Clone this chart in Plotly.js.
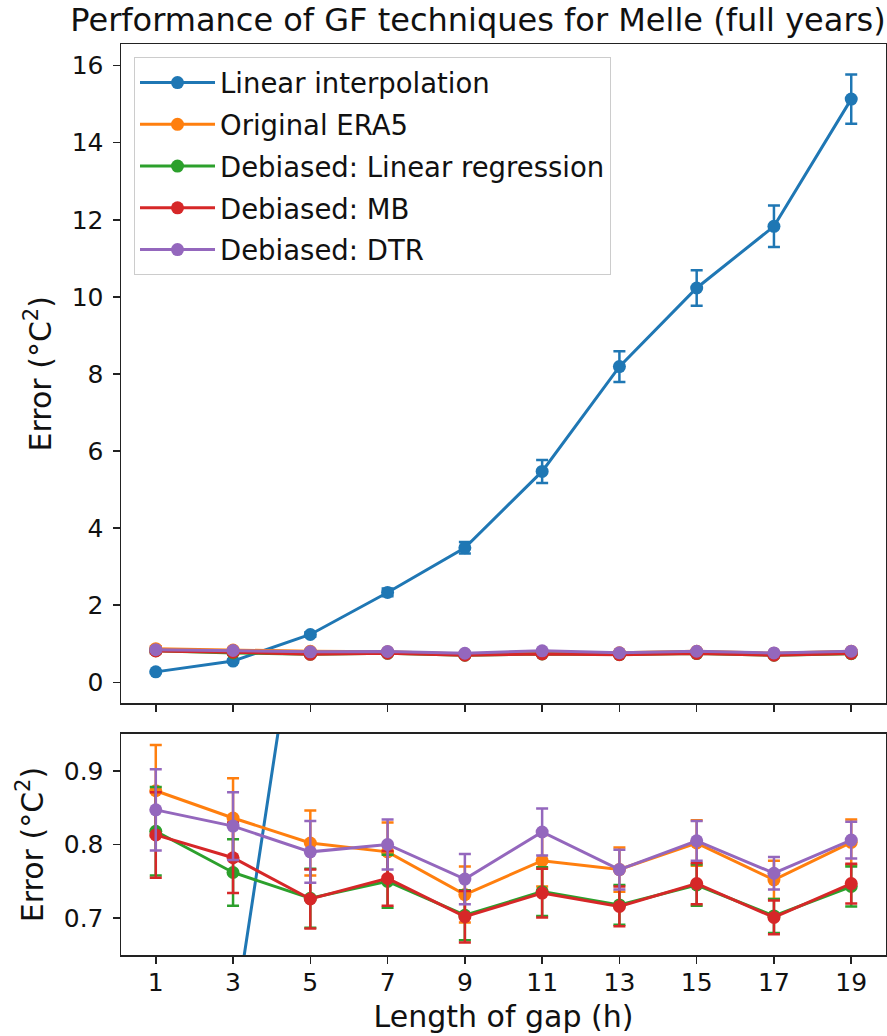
<!DOCTYPE html>
<html>
<head>
<meta charset="utf-8">
<script src="https://cdn.plot.ly/plotly-3.0.1.min.js"></script>
<style>html,body{margin:0;padding:0;background:#fff;}#chart{width:887px;height:1036px;}</style>
</head>
<body>
<div id="chart"></div>
<script>
// Data
var gapLengths = [1, 3, 5, 7, 9, 11, 13, 15, 17, 19];
var xTickLabels = ["1", "3", "5", "7", "9", "11", "13", "15", "17", "19"];

var linearInterp    = [0.27, 0.55, 1.24, 2.33, 3.49, 5.47, 8.19, 10.23, 11.83, 15.13];
var linearInterpErr = [0.03, 0.04, 0.06, 0.10, 0.15, 0.30, 0.40, 0.46, 0.54, 0.64];

var originalEra5    = [0.873, 0.836, 0.802, 0.790, 0.732, 0.778, 0.766, 0.802, 0.752, 0.803];
var originalEra5Err = [0.062, 0.054, 0.044, 0.040, 0.038, 0.035, 0.030, 0.031, 0.026, 0.031];

var debLinReg       = [0.818, 0.762, 0.727, 0.750, 0.704, 0.736, 0.718, 0.745, 0.703, 0.743];
var debLinRegErr    = [0.060, 0.045, 0.040, 0.036, 0.034, 0.033, 0.027, 0.028, 0.023, 0.027];

var debMB           = [0.813, 0.782, 0.726, 0.754, 0.702, 0.734, 0.716, 0.747, 0.701, 0.747];
var debMBErr        = [0.058, 0.048, 0.040, 0.037, 0.035, 0.033, 0.027, 0.028, 0.023, 0.027];

var debDTR          = [0.847, 0.825, 0.790, 0.800, 0.753, 0.817, 0.766, 0.805, 0.761, 0.806];
var debDTRErr       = [0.055, 0.046, 0.042, 0.034, 0.034, 0.032, 0.027, 0.027, 0.022, 0.025];

var seriesNames = ["Linear interpolation", "Original ERA5", "Debiased: Linear regression", "Debiased: MB", "Debiased: DTR"];
var seriesColors = ["#1f77b4", "#ff7f0e", "#2ca02c", "#d62728", "#9467bd"];
var seriesValues = [linearInterp, originalEra5, debLinReg, debMB, debDTR];
var seriesErrors = [linearInterpErr, originalEra5Err, debLinRegErr, debMBErr, debDTRErr];

var traces = [];
[["x", "y", true], ["x2", "y2", false]].forEach(function (ax) {
  for (var i = 0; i < seriesNames.length; i++) {
    traces.push({
      type: "scatter",
      mode: "lines+markers",
      name: seriesNames[i],
      legendgroup: "g" + i,
      showlegend: ax[2],
      x: gapLengths,
      y: seriesValues[i],
      xaxis: ax[0],
      yaxis: ax[1],
      line: {color: seriesColors[i], width: 3},
      marker: {color: seriesColors[i], size: 13},
      error_y: {type: "data", array: seriesErrors[i], visible: true,
                color: seriesColors[i], thickness: 2.5, width: 6}
    });
  }
});

var fontFam = "DejaVu Sans, sans-serif";
var axisCommon = {
  showline: true, linecolor: "#222", linewidth: 1.5, mirror: true,
  ticks: "outside", ticklen: 7, tickwidth: 1.5, tickcolor: "#222",
  showgrid: false, zeroline: false,
  tickfont: {family: fontFam, size: 25, color: "#111"}
};

function merge(a, b) { var o = {}; for (var k in a) o[k] = a[k]; for (var k2 in b) o[k2] = b[k2]; return o; }

var layout = {
  width: 887, height: 1036,
  margin: {l: 121, r: 1, t: 44, b: 81},
  paper_bgcolor: "#fff", plot_bgcolor: "#fff",
  font: {family: fontFam, color: "#111"},
  title: {text: "Performance of GF techniques for Melle (full years)",
          font: {family: fontFam, size: 32, color: "#111"},
          xref: "paper", x: 0.4667, xanchor: "center",
          yref: "container", y: 0.9807, yanchor: "middle"},
  xaxis: merge(axisCommon, {anchor: "y", range: [0.1, 19.9], tickvals: gapLengths,
                            ticktext: xTickLabels, showticklabels: false, matches: "x2"}),
  yaxis: merge(axisCommon, {domain: [0.2761, 1], range: [-0.55, 16.56],
                            tickvals: [0, 2, 4, 6, 8, 10, 12, 14, 16], ticklabelstandoff: 4,
                            title: {text: "Error (°C<sup>2</sup>)", standoff: 11,
                                    font: {family: fontFam, size: 30, color: "#111"}}}),
  xaxis2: merge(axisCommon, {anchor: "y2", range: [0.1, 19.9], tickvals: gapLengths,
                             ticktext: xTickLabels, ticklabelstandoff: -3,
                             title: {text: "Length of gap (h)", standoff: 10,
                                     font: {family: fontFam, size: 30, color: "#111"}}}),
  yaxis2: merge(axisCommon, {domain: [0, 0.2426], range: [0.65, 0.95],
                             tickvals: [0.7, 0.8, 0.9], ticktext: ["0.7", "0.8", "0.9"],
                             ticklabelstandoff: 4,
                             title: {text: "Error (°C<sup>2</sup>)", standoff: 11,
                                     font: {family: fontFam, size: 30, color: "#111"}}}),
  showlegend: true,
  legend: {x: 0.017, y: 0.9855, xanchor: "left", yanchor: "top",
           bgcolor: "rgba(255,255,255,0.8)", bordercolor: "#cccccc", borderwidth: 1,
           font: {family: fontFam, size: 27.5, color: "#111"},
           tracegroupgap: 3, itemwidth: 75, traceorder: "grouped"}
};

Plotly.newPlot("chart", traces, layout, {displayModeBar: false, staticPlot: true});
</script>
</body>
</html>
